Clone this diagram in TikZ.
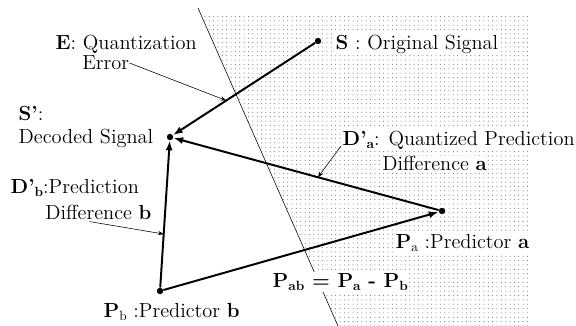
\documentclass[tikz,border=0pt]{standalone}
\usetikzlibrary{arrows.meta,calc,patterns}

\newcommand{\subl}[1]{\raisebox{-0.35ex}{\fontsize{9.5}{10}\selectfont #1}}

% light dot screen for the half-plane
\pgfdeclarepatternformonly{screendots}{\pgfqpoint{-1pt}{-1pt}}{\pgfqpoint{1pt}{1pt}}{\pgfqpoint{3.1pt}{3.1pt}}{%
    \pgfpathcircle{\pgfqpoint{0pt}{0pt}}{0.38pt}\pgfusepath{fill}}

\begin{document}
\begin{tikzpicture}[
    x=0.025cm, y=-0.025cm,
    font=\fontsize{14.5}{17}\selectfont,
    pt/.style={circle, fill, inner sep=0pt, minimum size=0.16cm},
    arrow/.style={-{Latex[length=7pt,width=5pt]}, line width=1.4pt},
    note/.style={-{Stealth[length=4pt,width=3pt]}, thin},
    desc/.style={anchor=west, fill=white, inner sep=1pt, align=left}
]
    \useasboundingbox (0,0) rectangle (576,326);

    % dotted half-plane and its border
    \fill[pattern=screendots, pattern color=black!55] (201,14) -- (529,14) -- (529,326) -- (338,326) -- cycle;
    \draw[thin] (198,8) -- (338,326);

    % signal points
    \node[pt] (S) at (318,41) {};
    \node[pt] (Sp) at (170,137) {};
    \node[pt] (Pa) at (442,211) {};
    \node[pt] (Pb) at (160,291) {};

    \draw[arrow] (S) -- (Sp);
    \draw[arrow] (Pa) -- (Sp);
    \draw[arrow] (Pb) -- (Sp);
    \draw[arrow] (Pb) -- (Pa);

    % labels
    \node[desc] (Eq) at (54,44) {\textbf{E}: Quantization};
    \node[desc, inner sep=0pt] (Eerr) at (82,63) {Error};
    \node[desc] (Spl) at (17,127) {\textbf{S'}:\\Decoded Signal};
    \node[desc] (Sl) at (334,44) {\textbf{S} : Original Signal};
    \node[desc] (Da1) at (341,140) {\textbf{D'\subl{a}}: Quantized Prediction};
    \node[desc, inner sep=0pt] (Da2) at (382,163) {Difference \textbf{a}};
    \node[desc] (Db1) at (9,188) {\textbf{D'\subl{b}}:Prediction};
    \node[desc, inner sep=0pt] (Db2) at (45,212) {Difference \textbf{b}};
    \node[desc] (Pbl) at (102,312) {\textbf{P}\subl{b} :Predictor \textbf{b}};
    \node[desc] (Pal) at (394,243) {\textbf{P}\subl{a} :Predictor \textbf{a}};
    \node[desc] (Pab) at (271,282) {\textbf{P\subl{ab} = P\subl{a} - P\subl{b}}};

    % pointers to the vectors
    \draw[note] (Eerr.east) -- ($(S)!0.62!(Sp)$);
    \draw[note] ($(Da1.west)+(0,6)$) -- ($(Pa)!0.456!(Sp)$);
    \draw[note] ($(Db2.south)+(-9,2)$) -- ($(Pb)!0.37!(Sp)$);
\end{tikzpicture}
\end{document}
